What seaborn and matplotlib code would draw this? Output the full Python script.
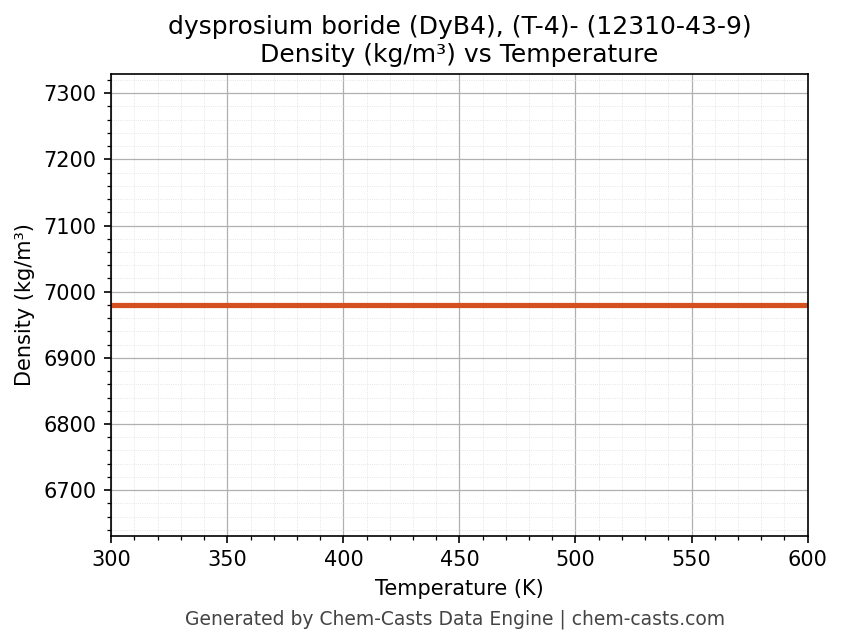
import numpy as np
import pandas as pd
import matplotlib
matplotlib.use('Agg')
import matplotlib.pyplot as plt
import seaborn as sns
from matplotlib.ticker import AutoMinorLocator

temperature = [300, 350, 400, 450, 500, 550, 600]
density = [6980, 6980, 6980, 6980, 6980, 6980, 6980]

df = pd.DataFrame({'Temperature (K)': temperature, 'Density': density})

sns.set_style('ticks')
plt.rcParams['font.family'] = ['DejaVu Sans']
plt.rcParams['text.color'] = 'black'
plt.rcParams['axes.labelcolor'] = 'black'
plt.rcParams['xtick.color'] = 'black'
plt.rcParams['ytick.color'] = 'black'

fig = plt.figure(figsize=(843 / 150, 644 / 150), dpi=150)
ax = fig.add_axes([0.132, 0.168, 0.826, 0.717])

sns.lineplot(data=df, x='Temperature (K)', y='Density', color='#d4501e', linewidth=2.5, ax=ax)

ax.set_xlim(300, 600)
ax.set_ylim(6631, 7329)
ax.xaxis.set_minor_locator(AutoMinorLocator(5))
ax.yaxis.set_minor_locator(AutoMinorLocator(5))
ax.grid(which='major', color='#b0b0b0', linewidth=0.6)
ax.grid(which='minor', color='#dddddd', linewidth=0.4, linestyle=':')
ax.tick_params(which='both', direction='out', labelsize=10)
for s in ax.spines.values():
    s.set_color('black')

ax.set_xlabel('Temperature (K)', fontsize=10)
ax.set_ylabel('Density (kg/m³)', fontsize=10)
ax.set_title('dysprosium boride (DyB4), (T-4)- (12310-43-9)\nDensity (kg/m³) vs Temperature', fontsize=12)

fig.text(0.54, 0.039, 'Generated by Chem-Casts Data Engine | chem-casts.com',
         ha='center', va='center', fontsize=9, color='#444444')

fig.savefig('out.png', dpi=150)
